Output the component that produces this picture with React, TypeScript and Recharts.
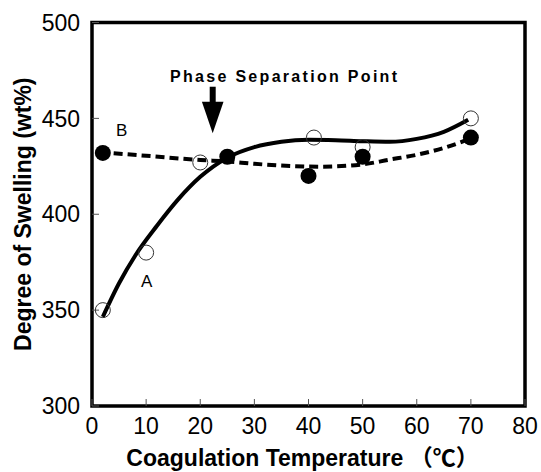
import {
  ComposedChart,
  Line,
  Scatter,
  XAxis,
  YAxis,
  ReferenceArea,
  ReferenceDot,
} from "recharts";

const FONT = "'Liberation Sans', Arial, 'Noto Sans CJK JP', sans-serif";

const xTicks = [0, 10, 20, 30, 40, 50, 60, 70, 80];
const yTicks = [300, 350, 400, 450, 500];

// open circles (A) and filled circles (B)
const openX = [2, 10, 20, 41, 50, 70];
const openY = [350, 380, 427, 440, 435, 450];
const filledX = [2, 25, 40, 50, 70];
const filledY = [432, 430, 420, 430, 440];

// traced fit curves
const curveAX = [2, 5, 8, 12, 16, 20, 25, 30, 35, 40, 45, 50, 55, 60, 65, 69.5];
const curveAY = [346.5, 364, 378.5, 394, 408, 419.5, 429.5, 435, 437.8, 438.8, 438.6, 438.1, 437.8, 439.3, 443, 449.3];
const curveBX = [4, 10, 20, 25, 30, 42, 50, 55, 60, 65.5, 69];
const curveBY = [431.8, 430.5, 428.3, 427.5, 426.3, 424.8, 426, 428.5, 431, 435, 438.5];

const zip = (xs: number[], ys: number[]) => xs.map((x, i) => ({ x, y: ys[i] }));

const openPts = zip(openX, openY);
const filledPts = zip(filledX, filledY);
const curveA = zip(curveAX, curveAY);
const curveB = zip(curveBX, curveBY);

const tickStyle = { fill: "#000", fontSize: 23, fontFamily: FONT };
const tickLineStyle = { stroke: "#555", strokeWidth: 1 };

export default function App() {
  return (
    <div style={{ position: "absolute", left: 0, top: 0, background: "#fff" }}>
      <ComposedChart
        width={541}
        height={472}
        margin={{ top: 21.5, right: 15, bottom: 0, left: 0 }}
      >
        <XAxis
          dataKey="x"
          type="number"
          domain={[0, 80]}
          ticks={xTicks}
          interval={0}
          axisLine={false}
          tickSize={-7}
          tickMargin={19}
          tickLine={tickLineStyle}
          tick={tickStyle}
          height={66}
          label={{
            content: (p: any) => {
              const vb = p.viewBox;
              return (
                <text
                  x={vb.x + vb.width / 2 - 6}
                  y={vb.y + 60}
                  textAnchor="middle"
                  fontSize={23}
                  fontWeight="bold"
                  fontFamily={FONT}
                  fill="#000"
                >
                  Coagulation Temperature （℃）
                </text>
              );
            },
          }}
        />
        <XAxis
          xAxisId="top"
          orientation="top"
          dataKey="x"
          type="number"
          domain={[0, 80]}
          ticks={xTicks}
          interval={0}
          axisLine={false}
          tickSize={-7}
          tickLine={tickLineStyle}
          tickFormatter={() => ""}
          height={1}
        />
        <YAxis
          type="number"
          domain={[300, 500]}
          ticks={yTicks}
          interval={0}
          axisLine={false}
          tickSize={-7}
          tickMargin={19}
          tickLine={tickLineStyle}
          tick={tickStyle}
          width={92}
          label={{
            content: (p: any) => {
              const vb = p.viewBox;
              const cx = 31;
              const cy = vb.y + vb.height / 2;
              return (
                <text
                  x={cx}
                  y={cy}
                  transform={`rotate(-90 ${cx} ${cy})`}
                  textAnchor="middle"
                  fontSize={23}
                  fontWeight="bold"
                  fontFamily={FONT}
                  fill="#000"
                >
                  Degree of Swelling (wt%)
                </text>
              );
            },
          }}
        />
        <YAxis
          yAxisId="right"
          orientation="right"
          type="number"
          domain={[300, 500]}
          ticks={yTicks}
          interval={0}
          axisLine={false}
          tickSize={-7}
          tickLine={tickLineStyle}
          tickFormatter={() => ""}
          width={1}
        />

        <Line
          data={curveB}
          dataKey="y"
          type="monotone"
          stroke="#000"
          strokeWidth={4}
          strokeDasharray="9 5"
          dot={false}
          isAnimationActive={false}
        />
        <Line
          data={curveA}
          dataKey="y"
          type="monotone"
          stroke="#000"
          strokeWidth={4}
          dot={false}
          isAnimationActive={false}
        />
        <Scatter
          data={openPts}
          dataKey="y"
          isAnimationActive={false}
          shape={(p: any) => (
            <circle cx={p.cx} cy={p.cy} r={7.5} fill="none" stroke="#333" strokeWidth={1} />
          )}
        />
        <Scatter
          data={filledPts}
          dataKey="y"
          isAnimationActive={false}
          shape={(p: any) => <circle cx={p.cx} cy={p.cy} r={8} fill="#000" />}
        />

        <ReferenceArea
          x1={0}
          x2={80}
          y1={300}
          y2={500}
          fill="none"
          fillOpacity={0}
          stroke="#000"
          strokeWidth={3.5}
        />

        <ReferenceDot
          x={35.6}
          y={471.9}
          r={0}
          shape={(p: any) => (
            <text
              x={p.cx}
              y={p.cy}
              textAnchor="middle"
              dominantBaseline="central"
              fontSize={16}
              fontWeight="bold"
              letterSpacing={2.3}
              fontFamily={FONT}
              fill="#000"
            >
              Phase Separation Point
            </text>
          )}
        />
        <ReferenceDot
          x={22.3}
          y={442.2}
          r={0}
          shape={(p: any) => (
            <g>
              <rect x={p.cx - 3} y={p.cy - 46.6} width={6} height={16} fill="#000" />
              <path
                d={`M ${p.cx - 10.8} ${p.cy - 31.6} L ${p.cx + 10.8} ${p.cy - 31.6} L ${p.cx} ${p.cy} Z`}
                fill="#000"
              />
            </g>
          )}
        />
        <ReferenceDot
          x={10.1}
          y={364.8}
          r={0}
          shape={(p: any) => (
            <text x={p.cx} y={p.cy} textAnchor="middle" dominantBaseline="central" fontSize={17} fontFamily={FONT} fill="#000">
              A
            </text>
          )}
        />
        <ReferenceDot
          x={5.5}
          y={443.9}
          r={0}
          shape={(p: any) => (
            <text x={p.cx} y={p.cy} textAnchor="middle" dominantBaseline="central" fontSize={17} fontFamily={FONT} fill="#000">
              B
            </text>
          )}
        />
      </ComposedChart>
    </div>
  );
}
